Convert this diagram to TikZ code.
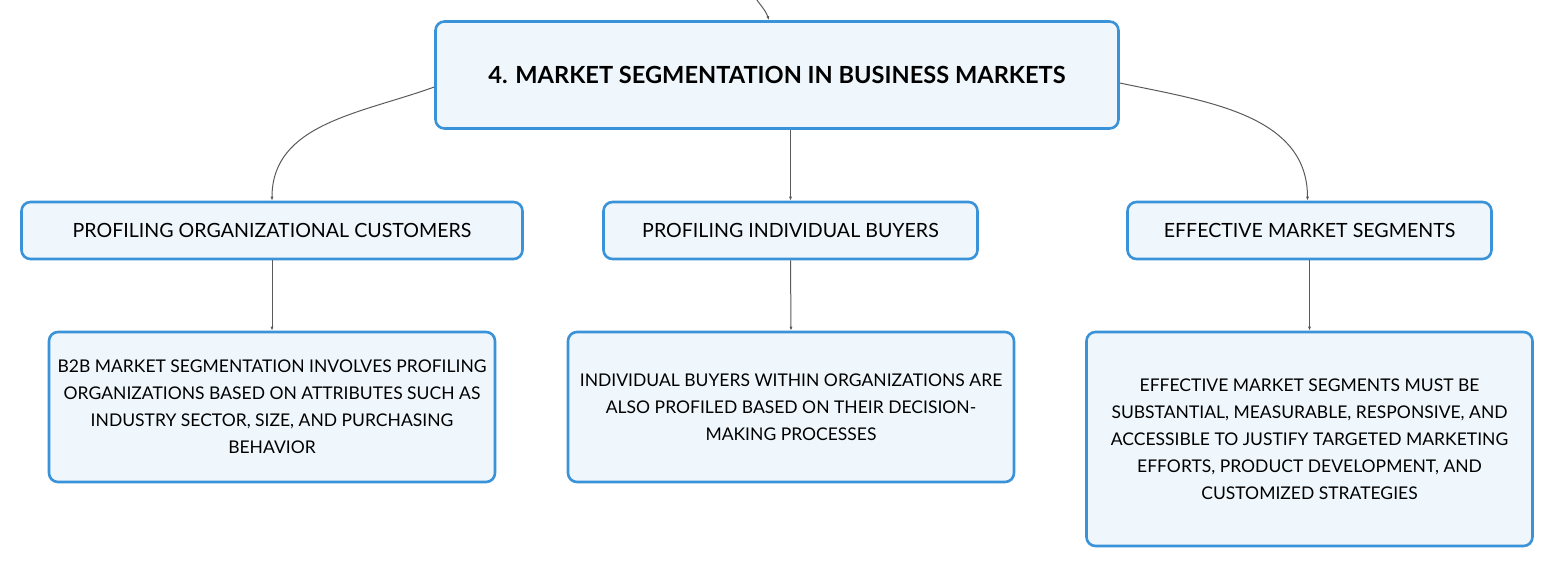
\documentclass[tikz,border=0pt]{standalone}
\usepackage{fontspec}
\setmainfont{Lato}
\usetikzlibrary{arrows.meta}
\definecolor{bordercol}{HTML}{3A93D8}
\definecolor{fillcol}{HTML}{EFF7FD}
\definecolor{linecol}{HTML}{5A5A5A}
\tikzset{
  box/.style={draw=bordercol, line width=2.6pt, fill=fillcol, rounded corners=9pt, align=center, inner sep=0pt, text=black},
  rootbox/.style={box, minimum width=683pt, minimum height=107pt, font=\fontsize{23.6}{28}\selectfont\bfseries},
  midbox/.style={box, minimum height=57pt, font=\fontsize{19.6}{24}\selectfont},
  leafbox/.style={box, minimum width=446pt, font=\fontsize{17.5}{27}\selectfont},
  conn/.style={draw=linecol, line width=1pt, -{Latex[length=4pt,width=3pt]}}
}
\begin{document}
\begin{tikzpicture}[x=1pt,y=-1pt]
\useasboundingbox (0,0) rectangle (1555,569);
\node[rootbox] (root) at (777,75) {4. MARKET SEGMENTATION IN BUSINESS MARKETS};
\node[midbox, minimum width=501pt] (pa) at (272,230.5) {PROFILING ORGANIZATIONAL CUSTOMERS};
\node[midbox, minimum width=374pt] (pb) at (790.5,230.5) {PROFILING INDIVIDUAL BUYERS};
\node[midbox, minimum width=364pt] (pc) at (1309.5,230.5) {EFFECTIVE MARKET SEGMENTS};
\node[leafbox, minimum height=150pt] (la) at (272,407) {B2B MARKET SEGMENTATION INVOLVES PROFILING\\ORGANIZATIONS BASED ON ATTRIBUTES SUCH AS\\INDUSTRY SECTOR, SIZE, AND PURCHASING\\BEHAVIOR};
\node[leafbox, minimum height=150pt] (lb) at (791,407) {INDIVIDUAL BUYERS WITHIN ORGANIZATIONS ARE\\ALSO PROFILED BASED ON THEIR DECISION-\\MAKING PROCESSES};
\node[leafbox, minimum height=214pt] (lc) at (1309.5,439) {EFFECTIVE MARKET SEGMENTS MUST BE\\SUBSTANTIAL, MEASURABLE, RESPONSIVE, AND\\ACCESSIBLE TO JUSTIFY TARGETED MARKETING\\EFFORTS, PRODUCT DEVELOPMENT, AND\\CUSTOMIZED STRATEGIES};
\coordinate (top) at (755,-3);
\draw[conn] (top) to[out=-58,in=108] ([xshift=-8pt]root.north);
\draw[conn] ([yshift=-12pt]root.west) to[out=200,in=90] (pa.north);
\draw[conn] ([yshift=-8pt]root.east) to[out=-12,in=90] ([xshift=-2pt]pc.north);
\draw[conn] (root.south -| pb.north) -- (pb.north);
\draw[conn] (pa.south) -- (la.north);
\draw[conn] (pb.south) -- (lb.north);
\draw[conn] (pc.south) -- (lc.north);
\end{tikzpicture}
\end{document}
